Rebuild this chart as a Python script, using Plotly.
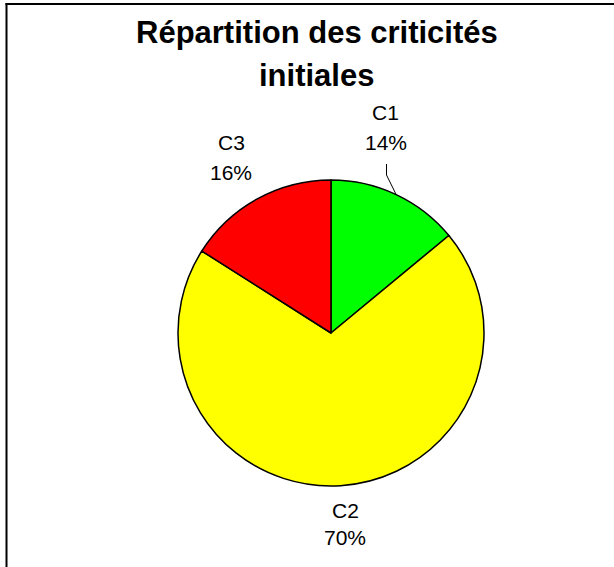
import math
import plotly.graph_objects as go

# ---- data ----
categories = ["C1", "C2", "C3"]
values = [14, 70, 16]
colors = ["#00FF00", "#FFFF00", "#FF0000"]
title_lines = ["Répartition des criticités", "initiales"]

# ---- layout constants (pixels) ----
W, H = 614, 567
CX, CY, R = 331, 333, 153
FONT = "Arial, 'Liberation Sans', sans-serif"

def px(x):
    return x / W

def py(y):
    return 1 - y / H

fig = go.Figure(go.Pie(
    labels=categories,
    values=values,
    sort=False,
    direction="clockwise",
    rotation=0,
    marker=dict(colors=colors, line=dict(color="#000000", width=1.5)),
    textinfo="none",
    hoverinfo="label+percent",
    domain=dict(x=[px(CX - R), px(CX + R)], y=[py(CY + R), py(CY - R)]),
    showlegend=False,
))

# label line centres for each category: (x, y of name, y of percent)
label_pos = {"C1": (386, 112, 142), "C2": (345, 510, 537), "C3": (231, 142, 172)}
total = sum(values)
annotations = []
for cat, v in zip(categories, values):
    pct = round(100 * v / total)
    lx, ly1, ly2 = label_pos[cat]
    for txt, ly in ((cat, ly1), (f"{pct}%", ly2)):
        annotations.append(dict(
            x=px(lx), y=py(ly), xref="paper", yref="paper",
            text=txt, showarrow=False,
            xanchor="center", yanchor="middle",
            font=dict(family=FONT, size=21, color="#000000"),
        ))

title_y = [32, 75.5]
for line, ty in zip(title_lines, title_y):
    annotations.append(dict(
        x=px(316.5), y=py(ty), xref="paper", yref="paper",
        text=f"<b>{line}</b>", showarrow=False,
        xanchor="center", yanchor="middle",
        font=dict(family=FONT, size=31, color="#000000"),
    ))

# leader line for C1: from below label to the midpoint of its arc
mid_angle = math.radians(360 * (values[0] / 2) / total)
ex = CX + R * math.sin(mid_angle)
ey = CY - R * math.cos(mid_angle)
lx0 = label_pos["C1"][0] + 0.5
shapes = [
    dict(type="path", xref="paper", yref="paper",
         path=f"M {px(lx0)},{py(164)} L {px(lx0)},{py(175)} L {px(ex)},{py(ey)}",
         line=dict(color="#000000", width=1)),
    # chart border: only the top and left edges fall inside the picture
    dict(type="line", xref="paper", yref="paper",
         x0=px(5.5), x1=1, y0=py(4), y1=py(4),
         line=dict(color="#000000", width=2)),
    dict(type="line", xref="paper", yref="paper",
         x0=px(6.5), x1=px(6.5), y0=py(3), y1=0,
         line=dict(color="#000000", width=2)),
]

fig.update_layout(
    width=W, height=H,
    margin=dict(l=0, r=0, t=0, b=0),
    paper_bgcolor="#FFFFFF",
    plot_bgcolor="#FFFFFF",
    annotations=annotations,
    shapes=shapes,
)

fig.write_html(
    "out.html",
    config={"displayModeBar": False},
    post_script="document.body.style.margin='0';document.body.style.overflow='hidden';",
)
